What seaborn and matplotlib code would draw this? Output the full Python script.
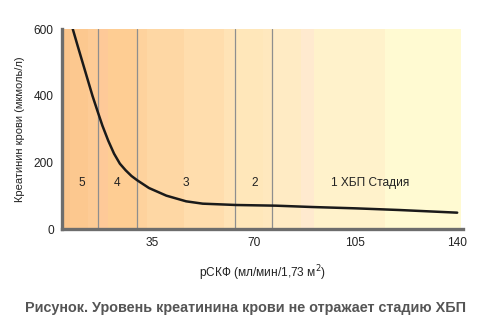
import matplotlib
matplotlib.use("Agg")
import matplotlib.pyplot as plt
import seaborn as sns
import pandas as pd

# Data
gfr = [7.8, 9.5, 11.2, 12.9, 14.6, 16.3, 18, 20, 22, 24, 26, 28, 30, 34, 40, 46.8, 52.5,
       64, 77.6, 90, 105, 120, 140]
creatinine = [600, 549, 499, 449, 399, 354, 310, 265, 226, 196, 176, 159, 146, 123, 100, 83, 76,
              72, 70, 66, 62, 57, 49]

stage_lines = [16.4, 29.9, 63.6, 76.4]
stage_labels = ["5", "4", "3", "2", "1 ХБП Стадия"]
stage_label_x = [11, 23, 46.8, 70.4, 110]
stage_label_y = 138

band_edges = [4.1, 6.85, 13.0, 16.4, 19.9, 29.8, 33.2, 46.2, 59.9, 63.4, 73.3, 76.4, 86.3, 90.8, 115.1, 141.4]
band_colors = ["#FBC58C", "#FCC88F", "#FDCB95", "#FEC998", "#FECD93", "#FED29D", "#FED7A4",
               "#FFDDAD", "#FFE3B6", "#FFE7BA", "#FFE8BE", "#FFEBC4", "#FFEACF", "#FFF2CB", "#FFFAD2"]

x_ticks = [35, 70, 105, 140]
y_ticks = [0, 200, 400, 600]

sns.set_style("white")
plt.rcParams['font.family'] = ['Liberation Sans', 'DejaVu Sans']

fig = plt.figure(figsize=(4.91, 3.33), dpi=100)
ax = fig.add_axes([62/491, 1-229/333, (463-62)/491, 200/333])

for i, c in enumerate(band_colors):
    ax.axvspan(band_edges[i], band_edges[i+1], color=c, lw=0, zorder=0)
for xv in stage_lines:
    ax.axvline(xv, color="#8e8e8e", lw=0.9, zorder=1)

df = pd.DataFrame({"gfr": gfr, "cr": creatinine})
sns.lineplot(data=df, x="gfr", y="cr", ax=ax, color="#1a1a1a", lw=1.8, zorder=3)
ax.lines[-1].set_solid_joinstyle("round")

for lab, xv in zip(stage_labels, stage_label_x):
    ax.text(xv, stage_label_y, lab, ha="center", va="center", fontsize=8.6, color="#222222")

ax.set_xlim(band_edges[0], 142)
ax.set_ylim(0, 600)
ax.set_xticks(x_ticks)
ax.set_yticks(y_ticks)
ax.tick_params(axis="both", direction="out", length=4, width=2, color="#6d6d6d",
               labelsize=8.6, labelcolor="#222222", pad=2)
for s in ["top", "right"]:
    ax.spines[s].set_visible(False)
for s in ["left", "bottom"]:
    ax.spines[s].set_color("#6d6d6d")
    ax.spines[s].set_linewidth(2.4)

ax.set_xlabel("рСКФ (мл/мин/1,73 м$^2$)", fontsize=8.6, color="#222222", labelpad=10)
ax.set_ylabel("Креатинин крови (мкмоль/л)", fontsize=8, color="#222222", labelpad=6)

fig.text(246/491, 1-308/333, "Рисунок. Уровень креатинина крови не отражает стадию ХБП",
         ha="center", va="center", fontsize=10.4, fontweight="bold", color="#555555")

fig.savefig("out.png", dpi=100)
